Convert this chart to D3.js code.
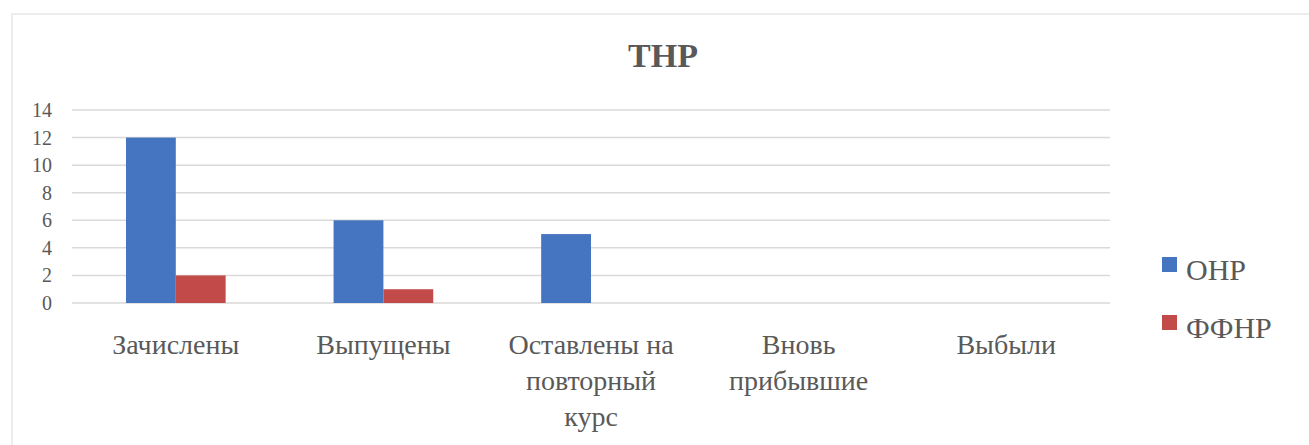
<!DOCTYPE html>
<html>
<head>
<meta charset="utf-8">
<script src="https://cdn.jsdelivr.net/npm/d3@7"></script>
<style>
  body { margin: 0; background: #fff; }
</style>
</head>
<body>
<svg id="chart"></svg>
<script>
// Data
const categories = ["Зачислены", "Выпущены", "Оставлены на повторный курс", "Вновь прибывшие", "Выбыли"];
const categoryLines = [["Зачислены"], ["Выпущены"], ["Оставлены на", "повторный", "курс"], ["Вновь", "прибывшие"], ["Выбыли"]];
const seriesNames = ["ОНР", "ФФНР"];
const onrValues = [12, 6, 5, 0, 0];
const ffnrValues = [2, 1, 0, 0, 0];
const yTicks = [0, 2, 4, 6, 8, 10, 12, 14];
const colors = ["#4575c1", "#c24b4a"];

const svg = d3.select("#chart"),
    width = 1309,
    height = 445;
svg.attr("width", width).attr("height", height)
    .attr("font-family", "'Liberation Serif', 'DejaVu Serif', serif")
    .attr("fill", "#595959");

// faint outer frame
svg.append("rect")
    .attr("x", 12).attr("y", 14)
    .attr("width", 1330).attr("height", 460)
    .attr("fill", "none")
    .attr("stroke", "#ececec")
    .attr("stroke-width", 2);

const margin = { left: 72, right: 199, top: 110, bottom: 140 };
const plotW = width - margin.left - margin.right;

const x = d3.scaleBand()
    .domain(categories)
    .range([margin.left, margin.left + plotW])
    .paddingInner(0.52)
    .paddingOuter(0.26);

const x1 = d3.scaleBand().domain(seriesNames).range([0, x.bandwidth()]);

const y = d3.scaleLinear().domain([0, 14]).range([303, 110]);

// gridlines
svg.append("g")
    .selectAll("line")
    .data(yTicks)
    .join("line")
    .attr("x1", margin.left)
    .attr("x2", margin.left + plotW)
    .attr("y1", d => y(d))
    .attr("y2", d => y(d))
    .attr("stroke", "#d9d9d9")
    .attr("stroke-width", 1.5);

// y labels
svg.append("g")
    .selectAll("text")
    .data(yTicks)
    .join("text")
    .attr("x", 52)
    .attr("y", d => y(d))
    .attr("dy", "0.35em")
    .attr("text-anchor", "end")
    .attr("font-size", 20)
    .text(d => d);

// bars
const rows = categories.map((c, i) => ({ cat: c, vals: [onrValues[i], ffnrValues[i]] }));
svg.append("g")
    .selectAll("g")
    .data(rows)
    .join("g")
    .attr("transform", d => `translate(${x(d.cat)},0)`)
    .selectAll("rect")
    .data(d => d.vals.map((v, k) => ({ s: seriesNames[k], v, k })))
    .join("rect")
    .attr("x", d => x1(d.s))
    .attr("width", x1.bandwidth())
    .attr("y", d => y(d.v))
    .attr("height", d => y(0) - y(d.v))
    .attr("fill", d => colors[d.k]);

// category labels
svg.append("g")
    .selectAll("text")
    .data(categories)
    .join("text")
    .attr("x", d => x(d) + x.bandwidth() / 2)
    .attr("y", 354)
    .attr("text-anchor", "middle")
    .attr("font-size", 28)
    .each(function (d, i) {
        d3.select(this).selectAll("tspan")
            .data(categoryLines[i])
            .join("tspan")
            .attr("x", x(d) + x.bandwidth() / 2)
            .attr("dy", (t, j) => j === 0 ? 0 : 36)
            .text(t => t);
    });

// title
svg.append("text")
    .attr("x", 663)
    .attr("y", 67)
    .attr("text-anchor", "middle")
    .attr("font-size", 34)
    .attr("font-weight", "bold")
    .text("ТНР");

// legend
const legend = svg.append("g")
    .selectAll("g")
    .data(seriesNames)
    .join("g")
    .attr("transform", (d, i) => `translate(1162,${270 + i * 58})`);
legend.append("rect")
    .attr("x", 0).attr("y", -13)
    .attr("width", 15).attr("height", 15)
    .attr("fill", (d, i) => colors[i]);
legend.append("text")
    .attr("x", 24)
    .attr("y", 0)
    .attr("dy", "0.33em")
    .attr("font-size", 30)
    .text(d => d);
</script>
</body>
</html>
